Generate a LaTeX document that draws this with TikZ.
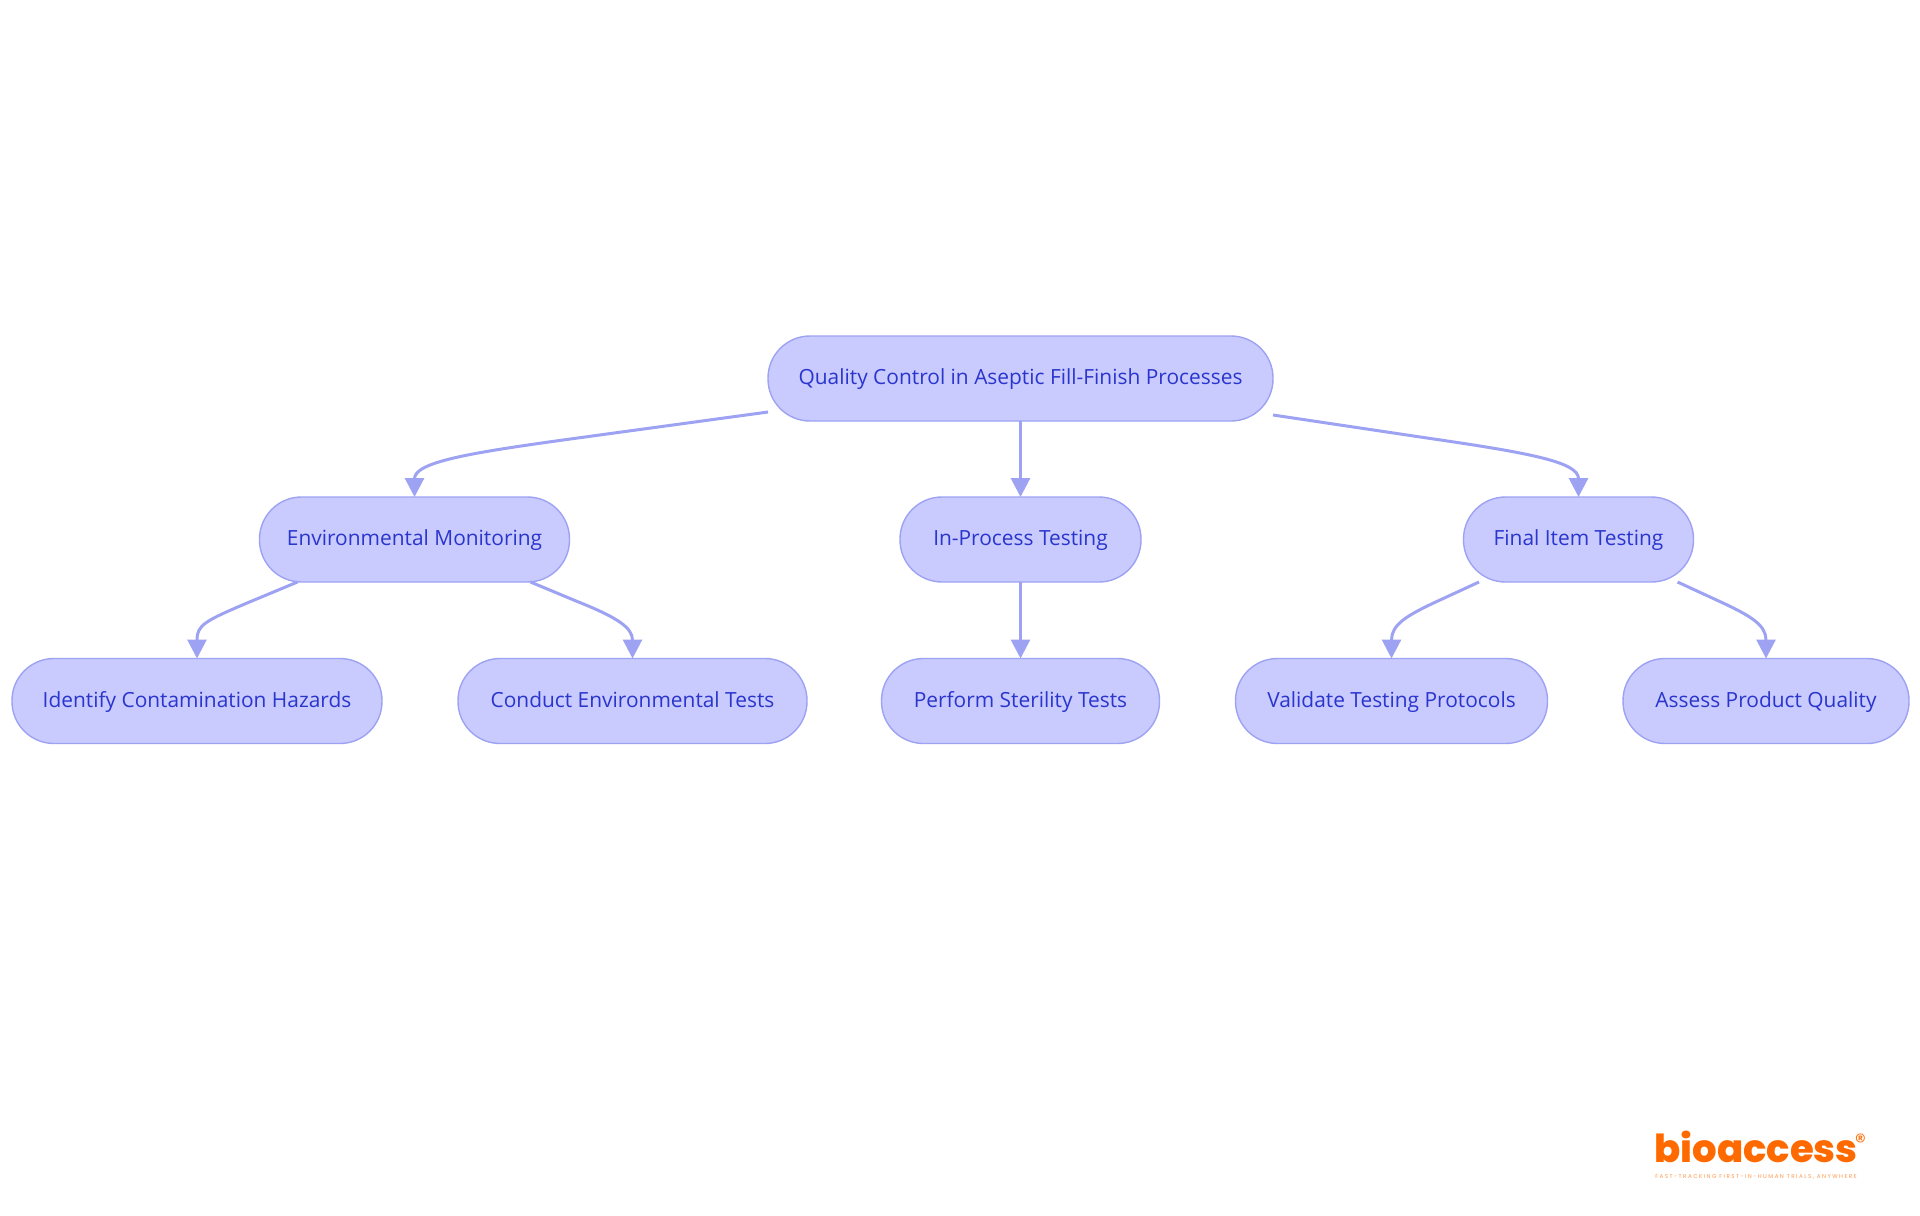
\documentclass[tikz,border=0pt]{standalone}
\usepackage{fontspec}
\setmainfont{Open Sans}
\newfontfamily\logofont{Poppins ExtraBold}
\newfontfamily\tagfont{Poppins}
\usetikzlibrary{arrows.meta,calc}
\definecolor{nodefill}{HTML}{C9CBFF}
\definecolor{nodeline}{HTML}{9DA2F2}
\definecolor{nodetext}{HTML}{2A35CC}
\definecolor{logoorange}{HTML}{FF6A00}
\tikzset{
  box/.style={draw=nodeline,fill=nodefill,line width=0.7pt,rounded corners=21pt,text=nodetext,font=\fontsize{10.45pt}{12pt}\selectfont,inner sep=0pt,outer sep=0pt,text height=8.6pt,text depth=2.4pt,anchor=center},
  link/.style={draw=nodeline,line width=1.5pt,-{Triangle[length=9.5pt,width=9.5pt]}},
}
\newcommand{\pill}[6]{\node[box,minimum width=#4*0.5pt,minimum height=#5*0.5pt] (#1) at (#2,#3) {#6};}
\begin{document}
\begin{tikzpicture}[x=0.5pt,y=-0.5pt]
\useasboundingbox (0,0) rectangle (1920,1215);
\pill{top}{1020.5}{378.5}{505}{85}{Quality Control in Aseptic Fill-Finish Processes}
\pill{env}{414.5}{539.5}{310}{85}{Environmental Monitoring}
\pill{inproc}{1020.5}{539.5}{241}{85}{In-Process Testing}
\pill{final}{1578.5}{539.5}{230}{85}{Final Item Testing}
\pill{identify}{197}{701}{370}{85}{Identify Contamination Hazards}
\pill{conduct}{632.5}{701}{349}{85}{Conduct Environmental Tests}
\pill{perform}{1020.5}{701}{278}{85}{Perform Sterility Tests}
\pill{validate}{1391.5}{701}{312}{85}{Validate Testing Protocols}
\pill{assess}{1766}{701}{286}{85}{Assess Product Quality}
\draw[link] ($(top.south west)+(0,-9)$) -- ++(-205,28) .. controls +(-93,13) and (env.north|-0,462) .. (env.north);
\draw[link] (top.south) -- (inproc.north);
\draw[link] ($(top.south east)+(0,-6)$) -- ++(154,23) .. controls +(103,15) and (final.north|-0,462) .. (final.north);
\draw[link] ($(env.south west)+(38,0)$) -- ++(-48,20) .. controls +(-45,19) and (identify.north|-0,625) .. (identify.north);
\draw[link] ($(env.south east)+(-39,0)$) -- ++(48,20) .. controls +(40,16) and (conduct.north|-0,628) .. (conduct.north);
\draw[link] (inproc.south) -- (perform.north);
\draw[link] ($(final.south west)+(15.5,0)$) -- ++(-39,18) .. controls +(-35,16) and (validate.north|-0,625) .. (validate.north);
\draw[link] ($(final.south east)+(-16,0)$) -- ++(39,18) .. controls +(35,16) and (assess.north|-0,625) .. (assess.north);
\node[inner sep=0pt,text=logoorange,font=\logofont\fontsize{19.3pt}{20pt}\selectfont,anchor=base west] (logo) at (1654,1162) {bioaccess};
\node[inner sep=0pt,text=logoorange,font=\tagfont\fontsize{11pt}{12pt}\selectfont] (reg) at (1860.5,1142) {®};
\node[inner sep=0pt,text=logoorange!70,font=\tagfont\fontsize{2.8pt}{3pt}\selectfont,anchor=west] (tag) at (1655,1177) {\addfontfeatures{LetterSpace=26}FAST-TRACKING FIRST-IN-HUMAN TRIALS, ANYWHERE};
\end{tikzpicture}
\end{document}
